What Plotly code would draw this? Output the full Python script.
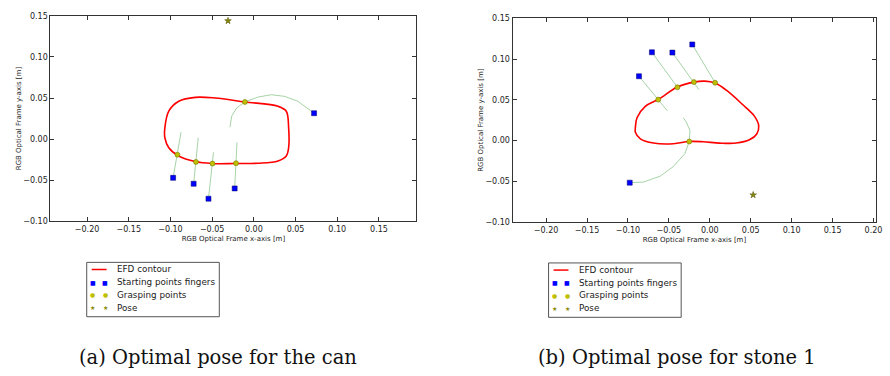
import plotly.graph_objects as go

# ---------------- data: (a) can ----------------
can_contour_x = [-0.1067, -0.1020, -0.0901, -0.0702, -0.0464, -0.0107, 0.0290, 0.0389, 0.0417, 0.0417,
                 0.0389, 0.0290, 0.0052, -0.0226, -0.0504, -0.0702, -0.0901, -0.1020, -0.1067, -0.1067]
can_contour_y = [0.0137, 0.0339, 0.0460, 0.0508, 0.0500, 0.0452, 0.0399, 0.0339, 0.0137, -0.0105,
                 -0.0206, -0.0266, -0.0294, -0.0298, -0.0298, -0.0274, -0.0206, -0.0105, 0.0016, 0.0137]
can_start_x = [-0.0968, -0.0722, -0.0544, -0.0230, 0.0722]
can_start_y = [-0.0472, -0.0544, -0.0726, -0.0601, 0.0315]
can_grasp_x = [-0.0917, -0.0694, -0.0496, -0.0214, -0.0107]
can_grasp_y = [-0.0190, -0.0278, -0.0298, -0.0294, 0.0452]
can_pose_x = [-0.031]
can_pose_y = [0.144]
can_finger_x = [[-0.0968, -0.0917, -0.0873],
                [-0.0722, -0.0694, -0.0667],
                [-0.0544, -0.0496, -0.0484],
                [-0.0230, -0.0214, -0.0202],
                [0.0722, 0.0528, 0.0369, 0.0210, 0.0052, -0.0107, -0.0206, -0.0266, -0.0286]]
can_finger_y = [[-0.0472, -0.0190, 0.0085],
                [-0.0544, -0.0278, 0.0016],
                [-0.0726, -0.0298, -0.0161],
                [-0.0601, -0.0294, -0.0040],
                [0.0315, 0.0460, 0.0520, 0.0540, 0.0512, 0.0452, 0.0379, 0.0278, 0.0145]]

# ---------------- data: (b) stone 1 ----------------
stone_contour_x = [-0.0909, -0.0889, -0.0788, -0.0626, -0.0396, -0.0194, -0.0061, 0.0065, 0.0202, 0.0404,
                   0.0545, 0.0598, 0.0574, 0.0485, 0.0323, 0.0121, -0.0081, -0.0251, -0.0444, -0.0687,
                   -0.0848, -0.0909, -0.0909]
stone_contour_y = [0.0160, 0.0279, 0.0419, 0.0507, 0.0658, 0.0718, 0.0730, 0.0706, 0.0618, 0.0439,
                   0.0299, 0.0180, 0.0080, 0.0008, -0.0032, -0.0032, -0.0016, -0.0012, -0.0040, -0.0032,
                   0.0020, 0.0100, 0.0160]
stone_start_x = [-0.0865, -0.0707, -0.0457, -0.0214, -0.0978]
stone_start_y = [0.0790, 0.1085, 0.1081, 0.1181, -0.0519]
stone_grasp_x = [-0.0630, -0.0396, -0.0194, 0.0065, -0.0251]
stone_grasp_y = [0.0503, 0.0654, 0.0718, 0.0710, -0.0012]
stone_pose_x = [0.053]
stone_pose_y = [-0.067]
stone_finger_x = [[-0.0865, -0.0630, -0.0517],
                  [-0.0707, -0.0396, -0.0385],
                  [-0.0457, -0.0194, -0.0133],
                  [-0.0214, 0.0065, 0.0073],
                  [-0.0978, -0.0808, -0.0606, -0.0444, -0.0303, -0.0251, -0.0242, -0.0283, -0.0323]]
stone_finger_y = [[0.0790, 0.0503, 0.0363],
                  [0.1085, 0.0654, 0.0640],
                  [0.1081, 0.0718, 0.0626],
                  [0.1181, 0.0710, 0.0698],
                  [-0.0519, -0.0511, -0.0439, -0.0319, -0.0160, -0.0012, 0.0120, 0.0219, 0.0279]]

legend_names = ["EFD contour", "Starting points fingers", "Grasping points", "Pose"]
captions = ["(a) Optimal pose for the can", "(b) Optimal pose for stone 1"]
x_title = "RGB Optical Frame x-axis [m]"
y_title = "RGB Optical Frame y-axis [m]"

RED = "#ff0000"
BLUE = "#0000ff"
YEL = "#bfbf00"
OLIVE = "#8a8a00"
GREEN = "rgba(0,128,0,0.35)"

W, H = 890, 376
fig = go.Figure()


def join_paths(xs, ys):
    ox, oy = [], []
    for a, b in zip(xs, ys):
        ox += list(a) + [None]
        oy += list(b) + [None]
    return ox, oy


def add_panel(xa, ya, cx, cy, sx, sy, gx, gy, px, py, fx, fy):
    lx, ly = join_paths(fx, fy)
    fig.add_trace(go.Scatter(x=lx, y=ly, mode="lines", line=dict(color=GREEN, width=1),
                             showlegend=False, xaxis=xa, yaxis=ya, hoverinfo="skip"))
    fig.add_trace(go.Scatter(x=cx, y=cy, mode="lines", name=legend_names[0], showlegend=False,
                             line=dict(color=RED, width=1.6, shape="spline", smoothing=1.0),
                             xaxis=xa, yaxis=ya))
    fig.add_trace(go.Scatter(x=sx, y=sy, mode="markers", name=legend_names[1], showlegend=False,
                             marker=dict(symbol="square", size=5, color=BLUE,
                                         line=dict(color="#000066", width=0.5)),
                             xaxis=xa, yaxis=ya))
    fig.add_trace(go.Scatter(x=gx, y=gy, mode="markers", name=legend_names[2], showlegend=False,
                             marker=dict(symbol="circle", size=5, color=YEL,
                                         line=dict(color="#666600", width=0.5)),
                             xaxis=xa, yaxis=ya))
    fig.add_trace(go.Scatter(x=px, y=py, mode="markers", name=legend_names[3], showlegend=False,
                             marker=dict(symbol="star", size=5, color=OLIVE,
                                         line=dict(color="#444400", width=0.5)),
                             xaxis=xa, yaxis=ya))


add_panel("x", "y", can_contour_x, can_contour_y, can_start_x, can_start_y,
          can_grasp_x, can_grasp_y, can_pose_x, can_pose_y, can_finger_x, can_finger_y)
add_panel("x2", "y2", stone_contour_x, stone_contour_y, stone_start_x, stone_start_y,
          stone_grasp_x, stone_grasp_y, stone_pose_x, stone_pose_y, stone_finger_x, stone_finger_y)

# ---------------- matplotlib-style legend boxes (layout only) ----------------
shapes = []
annotations = []


def px_x(v):
    return v / W


def px_y(v):
    return (H - v) / H


def draw_legend(x0, y0, w=133.5, h=55.7):
    shapes.append(dict(type="rect", xref="paper", yref="paper",
                       x0=px_x(x0), x1=px_x(x0 + w), y0=px_y(y0), y1=px_y(y0 + h),
                       line=dict(color="#555555", width=1), fillcolor="white", layer="above"))
    glyphs = [None, ("\u25A0", BLUE, 6), ("\u25CF", YEL, 6), ("\u2605", OLIVE, 6)]
    for i, name in enumerate(legend_names):
        cy = y0 + 7.3 + 13.0 * i
        if glyphs[i] is None:
            shapes.append(dict(type="line", xref="paper", yref="paper",
                               x0=px_x(x0 + 5), x1=px_x(x0 + 20), y0=px_y(cy), y1=px_y(cy),
                               line=dict(color=RED, width=1.5), layer="above"))
        else:
            g, c, s = glyphs[i]
            for gx in (x0 + 6.0, x0 + 18.7):
                annotations.append(dict(text=g, x=px_x(gx), y=px_y(cy), xref="paper", yref="paper",
                                        showarrow=False, xanchor="center", yanchor="middle",
                                        font=dict(family="DejaVu Sans", size=s, color=c)))
        annotations.append(dict(text=name, x=px_x(x0 + 28.5), y=px_y(cy), xref="paper", yref="paper",
                                showarrow=False, xanchor="left", yanchor="middle",
                                font=dict(family="DejaVu Sans", size=8.8, color="#222222")))


draw_legend(87.3, 264.7)
draw_legend(552.3, 265.3)

for text, cx in zip(captions, (219, 682)):
    annotations.append(dict(text=text, x=px_x(cx), y=px_y(362), xref="paper", yref="paper",
                            showarrow=False, xanchor="center", yanchor="middle",
                            font=dict(family="DejaVu Serif", size=19.5, color="#111111")))

tickfont = dict(family="DejaVu Sans", size=8, color="#222222")
titlefont = dict(family="DejaVu Sans", size=7, color="#222222")

common = dict(showline=True, linecolor="#333333", linewidth=1, mirror="ticks", ticks="inside",
              ticklen=4, tickwidth=0.8, tickcolor="#333333", showgrid=False, zeroline=False,
              tickfont=tickfont, tickformat=".2f", dtick=0.05, tick0=0)

fig.update_layout(
    width=W, height=H, autosize=False,
    margin=dict(l=0, r=0, t=0, b=0),
    paper_bgcolor="white", plot_bgcolor="white",
    showlegend=False,
    xaxis=dict(domain=[50.7 / W, 419.3 / W], range=[-0.244, 0.195], anchor="y",
               title=dict(text=x_title, font=titlefont, standoff=3), **common),
    yaxis=dict(domain=[(H - 222.7) / H, (H - 12) / H], range=[-0.1002, 0.1502], anchor="x",
               title=dict(text=y_title, font=titlefont, standoff=0), **common),
    xaxis2=dict(domain=[516 / W, 882.3 / W], range=[-0.241, 0.2035], anchor="y2",
                title=dict(text=x_title, font=titlefont, standoff=3), **common),
    yaxis2=dict(domain=[(H - 223.3) / H, (H - 14.7) / H], range=[-0.1002, 0.1502], anchor="x2",
                title=dict(text=y_title, font=titlefont, standoff=0), **common),
    shapes=shapes,
    annotations=annotations,
)

fig.write_html("out.html")
